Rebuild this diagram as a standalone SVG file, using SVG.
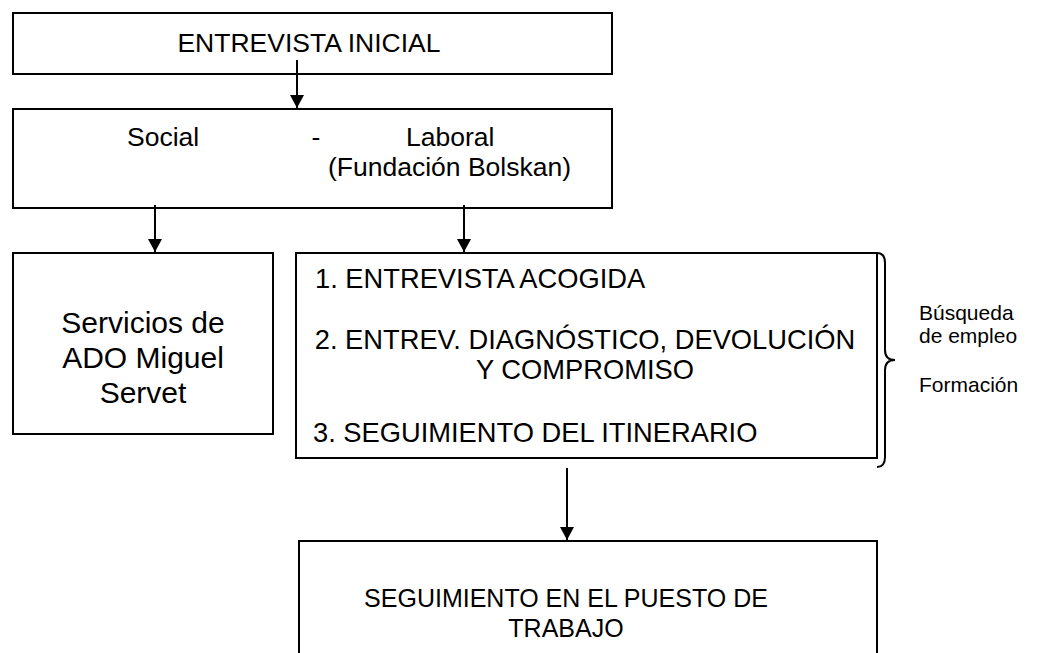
<svg xmlns="http://www.w3.org/2000/svg" width="1060" height="653" viewBox="0 0 1060 653">
<defs>
<marker id="arr" markerWidth="14" markerHeight="14" refX="13" refY="7" orient="auto" markerUnits="userSpaceOnUse">
<path d="M0,0 L13,7 L0,14 Z" fill="#000"/>
</marker>
</defs>
<style>
.box{fill:#fff;stroke:#000;stroke-width:2}
text{font-family:"Liberation Sans",Arial,sans-serif;fill:#000}
.t{font-size:26.5px}
.m{font-size:27.3px}
.b{font-size:30px}
.s{font-size:21px}
.f{font-size:25px}
.c{stroke:#000;stroke-width:2;fill:none}
</style>
<rect x="0" y="0" width="1060" height="653" fill="#fff"/>
<g id="n1"><rect class="box" x="13" y="13" width="599" height="61"/><text class="t" x="309" y="52" text-anchor="middle">ENTREVISTA INICIAL</text></g>
<g id="n2"><rect class="box" x="13" y="109" width="599" height="99"/>
<text class="t" x="127" y="146">Social</text><text class="t" x="316" y="146" text-anchor="middle">-</text><text class="t" x="406" y="146">Laboral</text>
<text class="t" x="328" y="176">(Fundación Bolskan)</text></g>
<g id="n3"><rect class="box" x="13" y="253" width="260" height="181"/>
<text class="b" x="143" y="333" text-anchor="middle">Servicios de</text>
<text class="b" x="143" y="368" text-anchor="middle">ADO Miguel</text>
<text class="b" x="143" y="403" text-anchor="middle">Servet</text></g>
<g id="n4"><rect class="box" x="296" y="253" width="581" height="205"/>
<text class="m" x="315" y="288">1. ENTREVISTA ACOGIDA</text>
<text class="m" x="585" y="349" text-anchor="middle">2. ENTREV. DIAGNÓSTICO, DEVOLUCIÓN</text>
<text class="m" x="585" y="379" text-anchor="middle">Y COMPROMISO</text>
<text class="m" x="313" y="442">3. SEGUIMIENTO DEL ITINERARIO</text></g>
<g id="n5"><rect class="box" x="299" y="541" width="578" height="130"/>
<text class="f" x="566" y="607" text-anchor="middle">SEGUIMIENTO EN EL PUESTO DE</text>
<text class="f" x="566" y="637" text-anchor="middle">TRABAJO</text></g>
<g id="brace"><path class="c" d="M877,253 Q885,253 885,263 L885,350 Q885,360 895,360 Q885,360 885,370 L885,457 Q885,467 877,467" stroke-width="1.5"/>
<text class="s" x="919" y="320">Búsqueda</text>
<text class="s" x="919" y="343">de empleo</text>
<text class="s" x="919" y="392">Formación</text></g>
<g id="connectors">
<line class="c" x1="297" y1="60" x2="297" y2="108" marker-end="url(#arr)"/>
<line class="c" x1="155" y1="205" x2="155" y2="252" marker-end="url(#arr)"/>
<line class="c" x1="464" y1="205" x2="464" y2="252" marker-end="url(#arr)"/>
<line class="c" x1="567" y1="468" x2="567" y2="540" marker-end="url(#arr)"/>
</g>
</svg>
